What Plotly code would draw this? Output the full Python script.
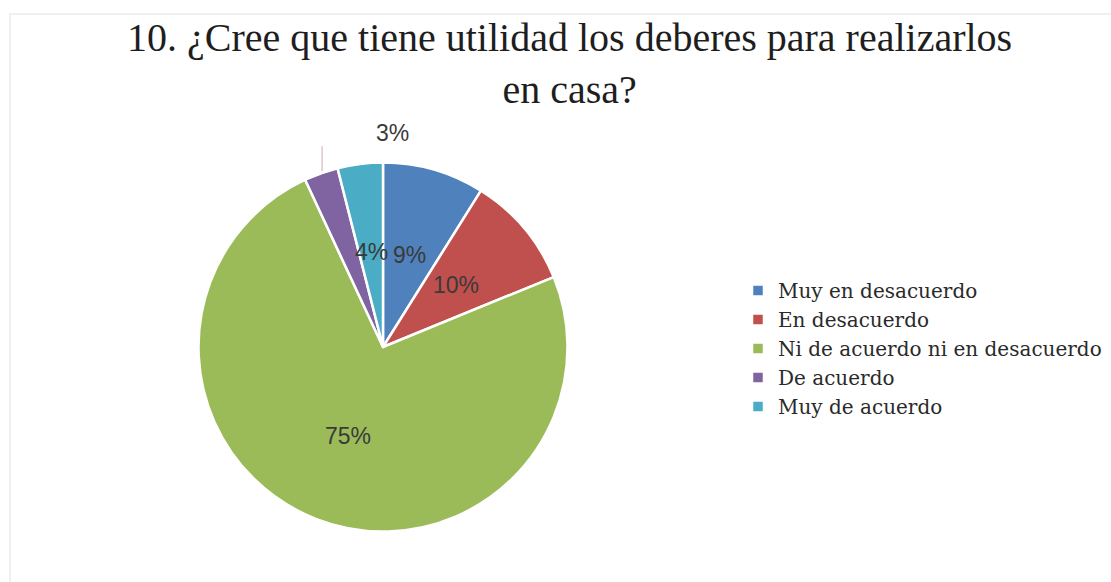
import math
import plotly.graph_objects as go

# Survey answers for question 10 (percent of respondents)
categories = [
    "Muy en desacuerdo",
    "En desacuerdo",
    "Ni de acuerdo ni en desacuerdo",
    "De acuerdo",
    "Muy de acuerdo",
]
percentages = [9, 10, 75, 3, 4]
slice_colors = ["#4F81BD", "#C0504D", "#9BBB59", "#8064A2", "#4BACC6"]
title_text = "10. ¿Cree que tiene utilidad los deberes para realizarlos<br>en casa?"

W, H = 1111, 582

# pie placement in pixels (centre and radius)
cx_px, cy_px, r_px = 383, 347, 184.5
dom_x = [(cx_px - r_px) / W, (cx_px + r_px) / W]
dom_y = [(H - (cy_px + r_px)) / H, (H - (cy_px - r_px)) / H]


def to_paper(px, py):
    return px / W, 1 - py / H


fig = go.Figure(
    go.Pie(
        labels=categories,
        values=percentages,
        sort=False,
        direction="clockwise",
        rotation=0,
        marker=dict(colors=slice_colors, line=dict(color="white", width=2.5)),
        textinfo="none",
        hoverinfo="label+percent",
        domain=dict(x=dom_x, y=dom_y),
    )
)

# data labels: placed along each slice's mid-angle
total = sum(percentages)
label_font = dict(family="Liberation Sans", size=23, color="#3a3a3a")
annotations = []
shapes = []
cum = 0
for i, v in enumerate(percentages):
    mid = (cum + v / 2) / total * 2 * math.pi  # clockwise from 12 o'clock
    cum += v
    if categories[i] == "De acuerdo":
        # small slice: label set outside with a short leader line
        ex = cx_px + r_px * math.sin(mid)
        ey = cy_px - r_px * math.cos(mid)
        x0, y0 = to_paper(ex + 1, ey - 2)
        x1, y1 = to_paper(ex + 1, ey - 27)
        shapes.append(dict(type="line", xref="paper", yref="paper",
                           x0=x0, y0=y0, x1=x1, y1=y1,
                           line=dict(color="#e2c4cf", width=1.5)))
        lx, ly = to_paper(ex + 71, ey - 40)
    else:
        rr = 0.52 * r_px
        lx, ly = to_paper(cx_px + rr * math.sin(mid), cy_px - rr * math.cos(mid))
    annotations.append(dict(x=lx, y=ly, xref="paper", yref="paper",
                            text=f"{v}%", showarrow=False, font=label_font,
                            xanchor="center", yanchor="middle"))

# chart title
tx, ty = to_paper(569, 13)
annotations.append(dict(x=tx, y=ty, xref="paper", yref="paper",
                        text=title_text, showarrow=False,
                        xanchor="center", yanchor="top", align="center",
                        font=dict(family="Liberation Serif", size=40, color="#1e1e1e")))

# light chart-area frame
fx0, fy0 = to_paper(10, 14)
fx1, fy1 = to_paper(1120, 600)
shapes.append(dict(type="rect", xref="paper", yref="paper",
                   x0=fx0, y0=fy0, x1=fx1, y1=fy1,
                   line=dict(color="#ececec", width=1.5), fillcolor="rgba(0,0,0,0)",
                   layer="below"))

fig.update_layout(
    width=W,
    height=H,
    margin=dict(l=0, r=0, t=0, b=0, autoexpand=False),
    paper_bgcolor="white",
    plot_bgcolor="white",
    legend=dict(
        x=738 / W,
        y=1 - 271 / H,
        xanchor="left",
        yanchor="top",
        font=dict(family="DejaVu Serif", size=20, color="#2a2a2a"),
        bgcolor="rgba(0,0,0,0)",
        itemclick=False,
    ),
    annotations=annotations,
    shapes=shapes,
)

fig.write_html("out.html")
